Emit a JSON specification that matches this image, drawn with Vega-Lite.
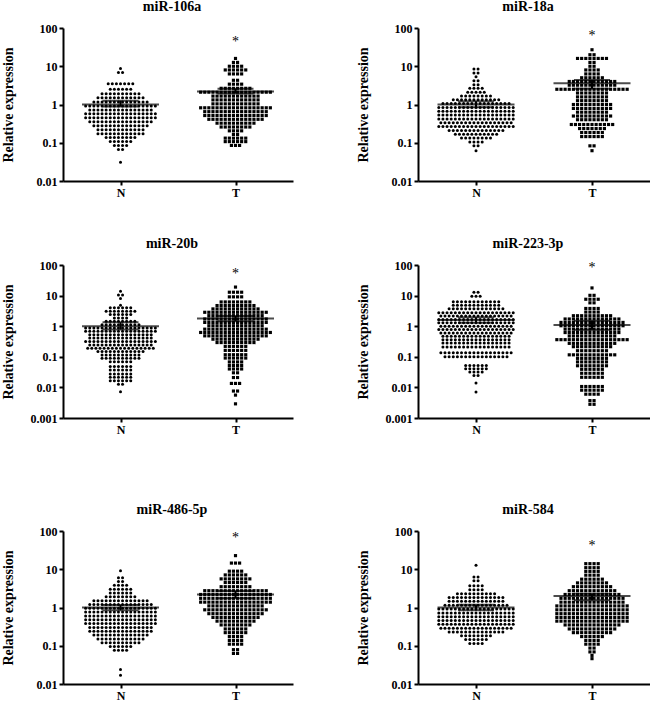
{
"$schema": "https://vega.github.io/schema/vega-lite/v6.json",
"padding": {"left": 1, "top": 0, "right": 0, "bottom": 0},
"datasets": {
"stats": [
{"m":"miR-106a","g":"N","mean":1.0,"lo":0.88,"hi":1.25,"sig":""},
{"m":"miR-106a","g":"T","mean":2.2,"lo":1.95,"hi":2.6,"sig":"*"},
{"m":"miR-18a","g":"N","mean":1.0,"lo":0.85,"hi":1.22,"sig":""},
{"m":"miR-18a","g":"T","mean":3.6,"lo":2.6,"hi":4.4,"sig":"*"},
{"m":"miR-20b","g":"N","mean":1.0,"lo":0.78,"hi":1.35,"sig":""},
{"m":"miR-20b","g":"T","mean":1.78,"lo":1.45,"hi":2.15,"sig":"*"},
{"m":"miR-223-3p","g":"N","mean":1.6,"lo":1.3,"hi":1.95,"sig":""},
{"m":"miR-223-3p","g":"T","mean":1.1,"lo":0.76,"hi":1.5,"sig":"*"},
{"m":"miR-486-5p","g":"N","mean":1.0,"lo":0.85,"hi":1.17,"sig":""},
{"m":"miR-486-5p","g":"T","mean":2.18,"lo":1.75,"hi":2.7,"sig":"*"},
{"m":"miR-584","g":"N","mean":1.0,"lo":0.85,"hi":1.18,"sig":""},
{"m":"miR-584","g":"T","mean":2.0,"lo":1.55,"hi":2.3,"sig":"*"}
],
"n1": [8.7,6.9,6.9,3.5,3.5,3.5,3.5,3.5,3.5,3.5,2.5,2.5,2.5,2.5,2.5,2.5,1.9,1.9,1.9,1.9,1.9,1.9,1.9,1.9,1.9,1.9,1.5,1.5,1.5,1.5,1.5,1.5,1.5,1.5,1.5,1.5,1.5,1.5,1.17,1.17,1.17,1.17,1.17,1.17,1.17,1.17,1.17,1.17,1.17,1.17,1.17,1.17,0.91,0.91,0.91,0.91,0.91,0.91,0.91,0.91,0.91,0.91,0.91,0.91,0.91,0.91,0.91,0.91,0.91,0.91,0.72,0.72,0.72,0.72,0.72,0.72,0.72,0.72,0.72,0.72,0.72,0.72,0.72,0.72,0.72,0.72,0.57,0.57,0.57,0.57,0.57,0.57,0.57,0.57,0.57,0.57,0.57,0.57,0.57,0.57,0.57,0.57,0.57,0.57,0.45,0.45,0.45,0.45,0.45,0.45,0.45,0.45,0.45,0.45,0.45,0.45,0.45,0.45,0.45,0.45,0.45,0.45,0.355,0.355,0.355,0.355,0.355,0.355,0.355,0.355,0.355,0.355,0.355,0.355,0.355,0.355,0.355,0.355,0.28,0.28,0.28,0.28,0.28,0.28,0.28,0.28,0.28,0.28,0.28,0.28,0.28,0.28,0.22,0.22,0.22,0.22,0.22,0.22,0.22,0.22,0.22,0.22,0.22,0.22,0.173,0.173,0.173,0.173,0.173,0.173,0.173,0.173,0.173,0.173,0.173,0.173,0.137,0.137,0.137,0.137,0.137,0.137,0.137,0.137,0.108,0.108,0.108,0.108,0.108,0.108,0.085,0.085,0.085,0.085,0.067,0.067,0.031],
"t1": [16,12.6,12.6,10,10,10,10,8,8,8,8,8,8,6.3,6.3,6.3,6.3,4.3,4.3,3.4,3.4,3.4,3.4,2.65,2.65,2.65,2.65,2.65,2.65,2.65,2.65,2.1,2.1,2.1,2.1,2.1,2.1,2.1,2.1,2.1,2.1,2.1,2.1,2.1,2.1,2.1,2.1,2.1,2.1,1.66,1.66,1.66,1.66,1.66,1.66,1.66,1.66,1.66,1.66,1.66,1.66,1.32,1.32,1.32,1.32,1.32,1.32,1.32,1.32,1.32,1.32,1.32,1.32,1.04,1.04,1.04,1.04,1.04,1.04,1.04,1.04,1.04,1.04,1.04,1.04,0.82,0.82,0.82,0.82,0.82,0.82,0.82,0.82,0.82,0.82,0.82,0.82,0.82,0.82,0.82,0.82,0.82,0.82,0.65,0.65,0.65,0.65,0.65,0.65,0.65,0.65,0.65,0.65,0.65,0.65,0.65,0.65,0.65,0.65,0.515,0.515,0.515,0.515,0.515,0.515,0.515,0.515,0.515,0.515,0.515,0.515,0.515,0.515,0.515,0.515,0.41,0.41,0.41,0.41,0.41,0.41,0.41,0.41,0.41,0.41,0.41,0.41,0.41,0.41,0.325,0.325,0.325,0.325,0.325,0.325,0.325,0.325,0.325,0.325,0.258,0.258,0.258,0.258,0.258,0.258,0.258,0.258,0.205,0.205,0.205,0.205,0.165,0.165,0.132,0.132,0.132,0.132,0.132,0.132,0.107,0.107,0.107,0.107,0.107,0.107,0.085,0.085,0.085],
"n2": [8.5,8.5,6.7,6.7,5.3,4.2,4.2,3.3,3.3,2.65,2.65,2.65,2.65,2.1,2.1,2.1,2.1,2.1,1.68,1.68,1.68,1.68,1.68,1.68,1.68,1.68,1.33,1.33,1.33,1.33,1.33,1.33,1.33,1.33,1.33,1.33,1.33,1.33,1.06,1.06,1.06,1.06,1.06,1.06,1.06,1.06,1.06,1.06,1.06,1.06,1.06,1.06,1.06,1.06,1.06,0.84,0.84,0.84,0.84,0.84,0.84,0.84,0.84,0.84,0.84,0.84,0.84,0.84,0.84,0.84,0.84,0.84,0.84,0.84,0.67,0.67,0.67,0.67,0.67,0.67,0.67,0.67,0.67,0.67,0.67,0.67,0.67,0.67,0.67,0.67,0.67,0.67,0.67,0.53,0.53,0.53,0.53,0.53,0.53,0.53,0.53,0.53,0.53,0.53,0.53,0.53,0.53,0.53,0.53,0.53,0.53,0.53,0.42,0.42,0.42,0.42,0.42,0.42,0.42,0.42,0.42,0.42,0.42,0.42,0.42,0.42,0.42,0.42,0.42,0.42,0.42,0.335,0.335,0.335,0.335,0.335,0.335,0.335,0.335,0.335,0.335,0.335,0.335,0.335,0.335,0.335,0.335,0.335,0.335,0.265,0.265,0.265,0.265,0.265,0.265,0.265,0.265,0.265,0.265,0.265,0.265,0.265,0.265,0.265,0.265,0.265,0.265,0.265,0.21,0.21,0.21,0.21,0.21,0.21,0.21,0.21,0.21,0.21,0.21,0.21,0.21,0.21,0.167,0.167,0.167,0.167,0.167,0.167,0.167,0.167,0.167,0.167,0.167,0.133,0.133,0.133,0.133,0.133,0.133,0.133,0.133,0.105,0.105,0.105,0.105,0.084,0.084,0.062],
"t2": [27,20,20,16,16,16,16,16,16,16,16,12.6,12.6,10,10,8,8,8,8,6.3,6.3,6.3,6.3,5,5,5,5,5,5,4,4,4,4,4,4,4,4,4,4,4,4,3.2,3.2,3.2,3.2,3.2,3.2,3.2,3.2,3.2,3.2,3.2,3.2,2.5,2.5,2.5,2.5,2.5,2.5,2.5,2.5,2.5,2.5,2.5,2.5,2.5,2.5,2.5,2.5,2.5,2.5,2,2,2,2,2,2,2,2,1.58,1.58,1.58,1.58,1.58,1.58,1.58,1.58,1.26,1.26,1.26,1.26,1.26,1.26,1.26,1.26,1,1,1,1,1,1,1,1,1,1,0.79,0.79,0.79,0.79,0.79,0.79,0.79,0.79,0.79,0.79,0.63,0.63,0.63,0.63,0.63,0.63,0.63,0.63,0.5,0.5,0.5,0.5,0.5,0.5,0.5,0.5,0.5,0.5,0.4,0.4,0.4,0.4,0.4,0.4,0.4,0.4,0.3,0.3,0.3,0.3,0.3,0.3,0.3,0.3,0.3,0.3,0.3,0.235,0.235,0.235,0.235,0.235,0.235,0.235,0.185,0.185,0.185,0.185,0.185,0.185,0.145,0.145,0.145,0.145,0.145,0.145,0.083,0.083,0.062],
"n3": [13.8,10.5,10.5,8,4.8,4,4,4,4,4,4,3.1,3.1,3.1,3.1,3.1,3.1,3.1,3.1,2.4,2.4,2.4,2.4,2.4,2.4,1.86,1.86,1.86,1.86,1.45,1.45,1.45,1.45,1.45,1.45,1.45,1.45,1.12,1.12,1.12,1.12,1.12,1.12,1.12,1.12,1.12,1.12,0.87,0.87,0.87,0.87,0.87,0.87,0.87,0.87,0.87,0.87,0.87,0.87,0.87,0.87,0.87,0.87,0.87,0.87,0.68,0.68,0.68,0.68,0.68,0.68,0.68,0.68,0.68,0.68,0.68,0.68,0.68,0.68,0.68,0.68,0.68,0.68,0.525,0.525,0.525,0.525,0.525,0.525,0.525,0.525,0.525,0.525,0.525,0.525,0.525,0.525,0.525,0.525,0.41,0.41,0.41,0.41,0.41,0.41,0.41,0.41,0.41,0.41,0.41,0.41,0.41,0.41,0.41,0.41,0.316,0.316,0.316,0.316,0.316,0.316,0.316,0.316,0.316,0.316,0.316,0.316,0.316,0.316,0.316,0.316,0.316,0.316,0.245,0.245,0.245,0.245,0.245,0.245,0.245,0.245,0.245,0.245,0.245,0.245,0.245,0.245,0.245,0.245,0.19,0.19,0.19,0.19,0.19,0.19,0.19,0.19,0.19,0.19,0.19,0.19,0.19,0.19,0.19,0.19,0.19,0.148,0.148,0.148,0.148,0.148,0.148,0.148,0.148,0.148,0.148,0.148,0.148,0.115,0.115,0.115,0.115,0.115,0.115,0.115,0.115,0.115,0.115,0.089,0.089,0.089,0.089,0.089,0.089,0.089,0.089,0.089,0.089,0.069,0.069,0.069,0.069,0.069,0.069,0.048,0.048,0.048,0.048,0.048,0.048,0.037,0.037,0.037,0.037,0.037,0.037,0.0275,0.0275,0.0275,0.0275,0.0275,0.0275,0.0214,0.0214,0.0214,0.0214,0.0214,0.0214,0.0166,0.0166,0.0166,0.0166,0.0166,0.0166,0.0126,0.0126,0.0072],
"t3": [19,12.9,12.9,12.9,12.9,9.1,9.1,9.1,9.1,6.2,6.2,6.2,6.2,6.2,6.2,6.2,6.2,4.73,4.73,4.73,4.73,4.73,4.73,4.73,4.73,4.73,4.73,3.67,3.67,3.67,3.67,3.67,3.67,3.67,3.67,3.67,3.67,3.67,3.67,2.85,2.85,2.85,2.85,2.85,2.85,2.85,2.85,2.85,2.85,2.85,2.85,2.85,2.85,2.85,2.85,2.21,2.21,2.21,2.21,2.21,2.21,2.21,2.21,2.21,2.21,2.21,2.21,2.21,2.21,1.72,1.72,1.72,1.72,1.72,1.72,1.72,1.72,1.72,1.72,1.72,1.72,1.72,1.72,1.72,1.72,1.33,1.33,1.33,1.33,1.33,1.33,1.33,1.33,1.33,1.33,1.33,1.33,1.33,1.33,1.33,1.33,1.035,1.035,1.035,1.035,1.035,1.035,1.035,1.035,1.035,1.035,1.035,1.035,1.035,1.035,0.8,0.8,0.8,0.8,0.8,0.8,0.8,0.8,0.8,0.8,0.8,0.8,0.8,0.8,0.8,0.8,0.624,0.624,0.624,0.624,0.624,0.624,0.624,0.624,0.624,0.624,0.624,0.624,0.624,0.624,0.624,0.624,0.624,0.624,0.484,0.484,0.484,0.484,0.484,0.484,0.484,0.484,0.484,0.484,0.484,0.484,0.484,0.484,0.484,0.484,0.376,0.376,0.376,0.376,0.376,0.376,0.376,0.376,0.376,0.376,0.376,0.376,0.292,0.292,0.292,0.292,0.292,0.292,0.292,0.292,0.292,0.292,0.219,0.219,0.219,0.219,0.219,0.219,0.162,0.162,0.162,0.162,0.162,0.162,0.117,0.117,0.117,0.117,0.117,0.117,0.091,0.091,0.091,0.091,0.091,0.091,0.068,0.068,0.068,0.068,0.052,0.052,0.052,0.052,0.04,0.04,0.04,0.04,0.03,0.03,0.021,0.021,0.0135,0.0135,0.0135,0.0076,0.0076,0.0056,0.0029],
"n4": [12.8,12.8,9.5,9.5,9.5,6.3,6.3,6.3,6.3,6.3,6.3,6.3,6.3,6.3,6.3,6.3,6.3,4.8,4.8,4.8,4.8,4.8,4.8,4.8,4.8,4.8,4.8,4.8,4.8,3.7,3.7,3.7,3.7,3.7,3.7,3.7,3.7,3.7,3.7,3.7,3.7,3.7,3.7,2.75,2.75,2.75,2.75,2.75,2.75,2.75,2.75,2.75,2.75,2.75,2.75,2.75,2.75,2.75,2.75,2.75,2.75,2.75,2.14,2.14,2.14,2.14,2.14,2.14,2.14,2.14,2.14,2.14,2.14,2.14,2.14,2.14,2.14,2.14,2.14,2.14,1.66,1.66,1.66,1.66,1.66,1.66,1.66,1.66,1.66,1.66,1.66,1.66,1.66,1.66,1.66,1.66,1.66,1.66,1.66,1.29,1.29,1.29,1.29,1.29,1.29,1.29,1.29,1.29,1.29,1.29,1.29,1.29,1.29,1.29,1.29,1.29,1.29,1.29,1,1,1,1,1,1,1,1,1,1,1,1,1,1,1,1,1,1,0.776,0.776,0.776,0.776,0.776,0.776,0.776,0.776,0.776,0.776,0.776,0.776,0.776,0.776,0.776,0.776,0.776,0.776,0.776,0.603,0.603,0.603,0.603,0.603,0.603,0.603,0.603,0.603,0.603,0.603,0.603,0.603,0.603,0.603,0.603,0.603,0.603,0.468,0.468,0.468,0.468,0.468,0.468,0.468,0.468,0.468,0.468,0.468,0.468,0.468,0.468,0.468,0.468,0.468,0.363,0.363,0.363,0.363,0.363,0.363,0.363,0.363,0.363,0.363,0.363,0.363,0.363,0.363,0.363,0.363,0.363,0.282,0.282,0.282,0.282,0.282,0.282,0.282,0.282,0.282,0.282,0.282,0.282,0.282,0.282,0.282,0.282,0.282,0.209,0.209,0.209,0.209,0.209,0.209,0.209,0.209,0.209,0.209,0.209,0.209,0.209,0.209,0.209,0.209,0.209,0.135,0.135,0.135,0.135,0.135,0.135,0.135,0.135,0.135,0.135,0.135,0.135,0.135,0.135,0.135,0.135,0.135,0.135,0.1,0.1,0.1,0.1,0.1,0.1,0.1,0.1,0.1,0.1,0.1,0.1,0.1,0.1,0.1,0.1,0.052,0.052,0.052,0.052,0.052,0.052,0.041,0.041,0.041,0.041,0.041,0.041,0.032,0.032,0.032,0.032,0.0245,0.0245,0.014,0.0071],
"t4": [17.8,10.2,10.2,7.6,7.6,7.6,7.6,5.8,5.8,3.8,3.8,3.8,3.8,2.9,2.9,2.9,2.9,2.2,2.2,2.2,2.2,2.2,2.2,2.2,2.2,2.2,2.2,1.72,1.72,1.72,1.72,1.72,1.72,1.72,1.72,1.72,1.72,1.72,1.72,1.72,1.72,1.33,1.33,1.33,1.33,1.33,1.33,1.33,1.33,1.33,1.33,1.33,1.33,1.33,1.33,1.33,1.33,1.035,1.035,1.035,1.035,1.035,1.035,1.035,1.035,1.035,1.035,1.035,1.035,1.035,1.035,1.035,1.035,0.8,0.8,0.8,0.8,0.8,0.8,0.8,0.8,0.8,0.8,0.8,0.8,0.8,0.8,0.62,0.62,0.62,0.62,0.62,0.62,0.62,0.62,0.62,0.62,0.62,0.62,0.62,0.62,0.48,0.48,0.48,0.48,0.48,0.48,0.48,0.48,0.48,0.48,0.48,0.48,0.363,0.363,0.363,0.363,0.363,0.363,0.363,0.363,0.363,0.363,0.363,0.363,0.363,0.363,0.363,0.363,0.363,0.363,0.275,0.275,0.275,0.275,0.275,0.275,0.275,0.275,0.275,0.275,0.275,0.275,0.214,0.214,0.214,0.214,0.214,0.214,0.214,0.214,0.214,0.214,0.158,0.158,0.158,0.158,0.158,0.158,0.158,0.158,0.116,0.116,0.116,0.116,0.116,0.116,0.116,0.116,0.116,0.116,0.116,0.116,0.089,0.089,0.089,0.089,0.089,0.089,0.089,0.089,0.068,0.068,0.068,0.068,0.068,0.068,0.068,0.068,0.051,0.051,0.051,0.051,0.051,0.051,0.051,0.051,0.039,0.039,0.039,0.039,0.039,0.039,0.029,0.029,0.029,0.029,0.029,0.029,0.0214,0.0214,0.0214,0.0214,0.0214,0.0214,0.0107,0.0107,0.0107,0.0107,0.0107,0.0107,0.0081,0.0081,0.0081,0.0081,0.0081,0.0081,0.006,0.006,0.006,0.006,0.0037,0.0037,0.0028,0.0028],
"n5": [9.2,6,6,4.8,4.8,3.8,3.8,3.8,3.8,3,3,3,3,3,3,2.4,2.4,2.4,2.4,2.4,2.4,1.9,1.9,1.9,1.9,1.9,1.9,1.9,1.9,1.51,1.51,1.51,1.51,1.51,1.51,1.51,1.51,1.51,1.51,1.51,1.51,1.51,1.51,1.2,1.2,1.2,1.2,1.2,1.2,1.2,1.2,1.2,1.2,1.2,1.2,1.2,1.2,1.2,1.2,0.955,0.955,0.955,0.955,0.955,0.955,0.955,0.955,0.955,0.955,0.955,0.955,0.955,0.955,0.955,0.955,0.955,0.955,0.76,0.76,0.76,0.76,0.76,0.76,0.76,0.76,0.76,0.76,0.76,0.76,0.76,0.76,0.76,0.76,0.76,0.76,0.6,0.6,0.6,0.6,0.6,0.6,0.6,0.6,0.6,0.6,0.6,0.6,0.6,0.6,0.6,0.6,0.6,0.6,0.48,0.48,0.48,0.48,0.48,0.48,0.48,0.48,0.48,0.48,0.48,0.48,0.48,0.48,0.48,0.48,0.48,0.48,0.38,0.38,0.38,0.38,0.38,0.38,0.38,0.38,0.38,0.38,0.38,0.38,0.38,0.38,0.38,0.38,0.38,0.38,0.3,0.3,0.3,0.3,0.3,0.3,0.3,0.3,0.3,0.3,0.3,0.3,0.3,0.3,0.3,0.3,0.24,0.24,0.24,0.24,0.24,0.24,0.24,0.24,0.24,0.24,0.24,0.24,0.24,0.24,0.24,0.24,0.19,0.19,0.19,0.19,0.19,0.19,0.19,0.19,0.19,0.19,0.19,0.19,0.19,0.19,0.151,0.151,0.151,0.151,0.151,0.151,0.151,0.151,0.151,0.151,0.151,0.151,0.12,0.12,0.12,0.12,0.12,0.12,0.12,0.12,0.12,0.12,0.095,0.095,0.095,0.095,0.095,0.095,0.076,0.076,0.076,0.076,0.024,0.017],
"t5": [22.7,14.5,14.5,14.5,8.9,8.9,8.9,8.9,7.1,7.1,7.1,7.1,7.1,7.1,5.6,5.6,5.6,5.6,5.6,5.6,5.6,5.6,4.5,4.5,4.5,4.5,4.5,4.5,3.5,3.5,3.5,3.5,3.5,3.5,3.5,3.5,2.75,2.75,2.75,2.75,2.75,2.75,2.75,2.75,2.75,2.75,2.75,2.75,2.75,2.75,2.75,2.75,2.19,2.19,2.19,2.19,2.19,2.19,2.19,2.19,2.19,2.19,2.19,2.19,2.19,2.19,2.19,2.19,2.19,2.19,1.74,1.74,1.74,1.74,1.74,1.74,1.74,1.74,1.74,1.74,1.74,1.74,1.74,1.74,1.74,1.74,1.74,1.74,1.38,1.38,1.38,1.38,1.38,1.38,1.38,1.38,1.38,1.38,1.38,1.38,1.38,1.38,1.38,1.38,1.38,1.38,1.1,1.1,1.1,1.1,1.1,1.1,1.1,1.1,1.1,1.1,1.1,1.1,1.1,1.1,0.87,0.87,0.87,0.87,0.87,0.87,0.87,0.87,0.87,0.87,0.87,0.87,0.87,0.87,0.87,0.87,0.69,0.69,0.69,0.69,0.69,0.69,0.69,0.69,0.69,0.69,0.69,0.69,0.69,0.69,0.55,0.55,0.55,0.55,0.55,0.55,0.55,0.55,0.55,0.55,0.55,0.55,0.44,0.44,0.44,0.44,0.44,0.44,0.44,0.44,0.44,0.44,0.35,0.35,0.35,0.35,0.35,0.35,0.35,0.35,0.275,0.275,0.275,0.275,0.275,0.275,0.22,0.22,0.22,0.22,0.22,0.22,0.174,0.174,0.174,0.174,0.138,0.138,0.138,0.138,0.11,0.11,0.11,0.11,0.079,0.079,0.063,0.063],
"n6": [12.7,6.3,6.3,5,5,3.7,3.7,3.7,3.7,2.9,2.9,2.9,2.9,2.3,2.3,2.3,2.3,2.3,2.3,2.3,2.3,2.3,2.3,1.82,1.82,1.82,1.82,1.82,1.82,1.82,1.82,1.82,1.82,1.82,1.82,1.82,1.82,1.45,1.45,1.45,1.45,1.45,1.45,1.45,1.45,1.45,1.45,1.45,1.45,1.45,1.45,1.15,1.15,1.15,1.15,1.15,1.15,1.15,1.15,1.15,1.15,1.15,1.15,1.15,1.15,1.15,1.15,0.91,0.91,0.91,0.91,0.91,0.91,0.91,0.91,0.91,0.91,0.91,0.91,0.91,0.91,0.91,0.91,0.91,0.91,0.91,0.72,0.72,0.72,0.72,0.72,0.72,0.72,0.72,0.72,0.72,0.72,0.72,0.72,0.72,0.72,0.72,0.72,0.72,0.72,0.575,0.575,0.575,0.575,0.575,0.575,0.575,0.575,0.575,0.575,0.575,0.575,0.575,0.575,0.575,0.575,0.575,0.575,0.575,0.457,0.457,0.457,0.457,0.457,0.457,0.457,0.457,0.457,0.457,0.457,0.457,0.457,0.457,0.457,0.457,0.457,0.457,0.457,0.363,0.363,0.363,0.363,0.363,0.363,0.363,0.363,0.363,0.363,0.363,0.363,0.363,0.363,0.363,0.363,0.363,0.363,0.363,0.288,0.288,0.288,0.288,0.288,0.288,0.288,0.288,0.288,0.288,0.288,0.288,0.288,0.288,0.288,0.288,0.288,0.288,0.229,0.229,0.229,0.229,0.229,0.229,0.229,0.229,0.229,0.229,0.229,0.229,0.229,0.229,0.182,0.182,0.182,0.182,0.182,0.182,0.182,0.182,0.145,0.145,0.145,0.145,0.145,0.145,0.115,0.115,0.115,0.115],
"t6": [14,14,14,14,11,11,11,11,8.8,8.8,8.8,8.8,7,7,7,7,5.5,5.5,5.5,5.5,5.5,5.5,4.4,4.4,4.4,4.4,4.4,4.4,4.4,4.4,3.5,3.5,3.5,3.5,3.5,3.5,3.5,3.5,3.5,3.5,2.75,2.75,2.75,2.75,2.75,2.75,2.75,2.75,2.75,2.75,2.75,2.75,2.19,2.19,2.19,2.19,2.19,2.19,2.19,2.19,2.19,2.19,2.19,2.19,2.19,2.19,1.74,1.74,1.74,1.74,1.74,1.74,1.74,1.74,1.74,1.74,1.74,1.74,1.74,1.74,1.74,1.74,1.38,1.38,1.38,1.38,1.38,1.38,1.38,1.38,1.38,1.38,1.38,1.38,1.38,1.38,1.38,1.38,1.1,1.1,1.1,1.1,1.1,1.1,1.1,1.1,1.1,1.1,1.1,1.1,1.1,1.1,1.1,1.1,1.1,1.1,0.87,0.87,0.87,0.87,0.87,0.87,0.87,0.87,0.87,0.87,0.87,0.87,0.87,0.87,0.87,0.87,0.87,0.87,0.69,0.69,0.69,0.69,0.69,0.69,0.69,0.69,0.69,0.69,0.69,0.69,0.69,0.69,0.69,0.69,0.69,0.69,0.55,0.55,0.55,0.55,0.55,0.55,0.55,0.55,0.55,0.55,0.55,0.55,0.55,0.55,0.55,0.55,0.55,0.55,0.44,0.44,0.44,0.44,0.44,0.44,0.44,0.44,0.44,0.44,0.44,0.44,0.44,0.44,0.44,0.44,0.44,0.44,0.35,0.35,0.35,0.35,0.35,0.35,0.35,0.35,0.35,0.35,0.35,0.35,0.35,0.35,0.275,0.275,0.275,0.275,0.275,0.275,0.275,0.275,0.275,0.275,0.275,0.275,0.22,0.22,0.22,0.22,0.22,0.22,0.22,0.22,0.22,0.22,0.174,0.174,0.174,0.174,0.174,0.174,0.138,0.138,0.138,0.138,0.11,0.11,0.11,0.11,0.087,0.087,0.069,0.069,0.056,0.046]
},
"config": {
"view": {"stroke": null},
"font": "Liberation Serif",
"axis": {"domainColor": "black", "domainWidth": 2, "tickColor": "black", "tickWidth": 2, "tickSize": 4, "labelFont": "Liberation Serif", "labelFontWeight": "bold", "labelFontSize": 12, "labelColor": "black", "labelPadding": 2, "titleFont": "Liberation Serif", "titleFontWeight": "bold", "titleFontSize": 14, "titleColor": "black", "grid": false},
"axisY": {"minExtent": 30, "maxExtent": 30, "titlePadding": 18, "labelFlush": false},
"axisX": {"labelAngle": 0, "labelFlush": false},
"title": {"font": "Liberation Serif", "fontSize": 14, "fontWeight": "bold", "color": "black", "offset": 8, "frame": "group", "dx": -6}
},
"spacing": 68,
"vconcat": [
{"spacing": 39, "vconcat": [
{"spacing": 63, "hconcat": [
{"title": "miR-106a", "width": 230, "height": 153, "layer": [
{"data": {"name": "stats"}, "transform": [{"filter": "datum.m === 'miR-106a'"}, {"calculate": "datum.g === 'N' ? 1 : 3", "as": "c"}], "layer": [
 {"mark": {"type": "tick", "orient": "horizontal", "size": 77, "thickness": 2, "color": "black"}, "encoding": {"x": {"field": "c", "type": "quantitative", "scale": {"domain": [0, 4], "nice": false, "zero": false}, "axis": {"title": null, "values": [1, 3], "labelExpr": "datum.value === 1 ? 'N' : 'T'"}}, "y": {"field": "mean", "type": "quantitative", "scale": {"type": "log", "domain": [0.01, 100], "nice": false}, "axis": {"title": "Relative expression", "values": [0.01, 0.1, 1, 10, 100], "format": "~g"}}}},
 {"mark": {"type": "tick", "orient": "horizontal", "size": 36, "thickness": 2, "color": "black"}, "encoding": {"x": {"field": "c", "type": "quantitative", "scale": {"domain": [0, 4], "nice": false, "zero": false}, "axis": {"title": null}}, "y": {"field": "lo", "type": "quantitative", "scale": {"type": "log", "domain": [0.01, 100], "nice": false}, "axis": {"title": "Relative expression"}}}},
 {"mark": {"type": "tick", "orient": "horizontal", "size": 36, "thickness": 2, "color": "black"}, "encoding": {"x": {"field": "c", "type": "quantitative", "scale": {"domain": [0, 4], "nice": false, "zero": false}, "axis": {"title": null}}, "y": {"field": "hi", "type": "quantitative", "scale": {"type": "log", "domain": [0.01, 100], "nice": false}, "axis": {"title": "Relative expression"}}}},
 {"mark": {"type": "rule", "strokeWidth": 2, "color": "black"}, "encoding": {"x": {"field": "c", "type": "quantitative", "scale": {"domain": [0, 4], "nice": false, "zero": false}, "axis": {"title": null}}, "y": {"field": "lo", "type": "quantitative", "scale": {"type": "log", "domain": [0.01, 100], "nice": false}, "axis": {"title": "Relative expression"}}, "y2": {"field": "hi"}}},
 {"mark": {"type": "text", "fontSize": 14, "baseline": "middle", "font": "Liberation Serif", "color": "black"}, "encoding": {"x": {"field": "c", "type": "quantitative", "scale": {"domain": [0, 4], "nice": false, "zero": false}, "axis": {"title": null}}, "y": {"datum": 42, "type": "quantitative", "scale": {"type": "log", "domain": [0.01, 100], "nice": false}, "axis": {"title": "Relative expression"}}, "text": {"field": "sig"}}}
]},
{"data": {"name": "n1"}, "transform": [{"window": [{"op": "row_number", "as": "i"}, {"op": "count", "as": "n"}], "groupby": ["data"], "frame": [null, null]}, {"calculate": "1 + (datum.i - (datum.n + 1) / 2) * 0.0713", "as": "x"}],
 "mark": {"type": "point", "shape": "circle", "filled": true, "size": 9, "color": "black", "opacity": 1},
 "encoding": {"x": {"field": "x", "type": "quantitative", "scale": {"domain": [0, 4], "nice": false, "zero": false}, "axis": {"title": null}}, "y": {"field": "data", "type": "quantitative", "scale": {"type": "log", "domain": [0.01, 100], "nice": false}, "axis": {"title": "Relative expression"}}}},
{"data": {"name": "t1"}, "transform": [{"window": [{"op": "row_number", "as": "i"}, {"op": "count", "as": "n"}], "groupby": ["data"], "frame": [null, null]}, {"calculate": "3 + (datum.i - (datum.n + 1) / 2) * 0.0713", "as": "x"}],
 "mark": {"type": "point", "shape": "square", "filled": true, "size": 10, "color": "black", "opacity": 1},
 "encoding": {"x": {"field": "x", "type": "quantitative", "scale": {"domain": [0, 4], "nice": false, "zero": false}, "axis": {"title": null}}, "y": {"field": "data", "type": "quantitative", "scale": {"type": "log", "domain": [0.01, 100], "nice": false}, "axis": {"title": "Relative expression"}}}}
]},
{"title": "miR-18a", "width": 232, "height": 153, "layer": [
{"data": {"name": "stats"}, "transform": [{"filter": "datum.m === 'miR-18a'"}, {"calculate": "datum.g === 'N' ? 1 : 3", "as": "c"}], "layer": [
 {"mark": {"type": "tick", "orient": "horizontal", "size": 77, "thickness": 2, "color": "black"}, "encoding": {"x": {"field": "c", "type": "quantitative", "scale": {"domain": [0, 4], "nice": false, "zero": false}, "axis": {"title": null, "values": [1, 3], "labelExpr": "datum.value === 1 ? 'N' : 'T'"}}, "y": {"field": "mean", "type": "quantitative", "scale": {"type": "log", "domain": [0.01, 100], "nice": false}, "axis": {"title": "Relative expression", "values": [0.01, 0.1, 1, 10, 100], "format": "~g"}}}},
 {"mark": {"type": "tick", "orient": "horizontal", "size": 36, "thickness": 2, "color": "black"}, "encoding": {"x": {"field": "c", "type": "quantitative", "scale": {"domain": [0, 4], "nice": false, "zero": false}, "axis": {"title": null}}, "y": {"field": "lo", "type": "quantitative", "scale": {"type": "log", "domain": [0.01, 100], "nice": false}, "axis": {"title": "Relative expression"}}}},
 {"mark": {"type": "tick", "orient": "horizontal", "size": 36, "thickness": 2, "color": "black"}, "encoding": {"x": {"field": "c", "type": "quantitative", "scale": {"domain": [0, 4], "nice": false, "zero": false}, "axis": {"title": null}}, "y": {"field": "hi", "type": "quantitative", "scale": {"type": "log", "domain": [0.01, 100], "nice": false}, "axis": {"title": "Relative expression"}}}},
 {"mark": {"type": "rule", "strokeWidth": 2, "color": "black"}, "encoding": {"x": {"field": "c", "type": "quantitative", "scale": {"domain": [0, 4], "nice": false, "zero": false}, "axis": {"title": null}}, "y": {"field": "lo", "type": "quantitative", "scale": {"type": "log", "domain": [0.01, 100], "nice": false}, "axis": {"title": "Relative expression"}}, "y2": {"field": "hi"}}},
 {"mark": {"type": "text", "fontSize": 14, "baseline": "middle", "font": "Liberation Serif", "color": "black"}, "encoding": {"x": {"field": "c", "type": "quantitative", "scale": {"domain": [0, 4], "nice": false, "zero": false}, "axis": {"title": null}}, "y": {"datum": 63, "type": "quantitative", "scale": {"type": "log", "domain": [0.01, 100], "nice": false}, "axis": {"title": "Relative expression"}}, "text": {"field": "sig"}}}
]},
{"data": {"name": "n2"}, "transform": [{"window": [{"op": "row_number", "as": "i"}, {"op": "count", "as": "n"}], "groupby": ["data"], "frame": [null, null]}, {"calculate": "1 + (datum.i - (datum.n + 1) / 2) * 0.0713", "as": "x"}],
 "mark": {"type": "point", "shape": "circle", "filled": true, "size": 9, "color": "black", "opacity": 1},
 "encoding": {"x": {"field": "x", "type": "quantitative", "scale": {"domain": [0, 4], "nice": false, "zero": false}, "axis": {"title": null}}, "y": {"field": "data", "type": "quantitative", "scale": {"type": "log", "domain": [0.01, 100], "nice": false}, "axis": {"title": "Relative expression"}}}},
{"data": {"name": "t2"}, "transform": [{"window": [{"op": "row_number", "as": "i"}, {"op": "count", "as": "n"}], "groupby": ["data"], "frame": [null, null]}, {"calculate": "3 + (datum.i - (datum.n + 1) / 2) * 0.0713", "as": "x"}],
 "mark": {"type": "point", "shape": "square", "filled": true, "size": 10, "color": "black", "opacity": 1},
 "encoding": {"x": {"field": "x", "type": "quantitative", "scale": {"domain": [0, 4], "nice": false, "zero": false}, "axis": {"title": null}}, "y": {"field": "data", "type": "quantitative", "scale": {"type": "log", "domain": [0.01, 100], "nice": false}, "axis": {"title": "Relative expression"}}}}
]}
]},
{"spacing": 63, "hconcat": [
{"title": "miR-20b", "width": 230, "height": 153, "layer": [
{"data": {"name": "stats"}, "transform": [{"filter": "datum.m === 'miR-20b'"}, {"calculate": "datum.g === 'N' ? 1 : 3", "as": "c"}], "layer": [
 {"mark": {"type": "tick", "orient": "horizontal", "size": 77, "thickness": 2, "color": "black"}, "encoding": {"x": {"field": "c", "type": "quantitative", "scale": {"domain": [0, 4], "nice": false, "zero": false}, "axis": {"title": null, "values": [1, 3], "labelExpr": "datum.value === 1 ? 'N' : 'T'"}}, "y": {"field": "mean", "type": "quantitative", "scale": {"type": "log", "domain": [0.001, 100], "nice": false}, "axis": {"title": "Relative expression", "values": [0.001, 0.01, 0.1, 1, 10, 100], "format": "~g"}}}},
 {"mark": {"type": "tick", "orient": "horizontal", "size": 36, "thickness": 2, "color": "black"}, "encoding": {"x": {"field": "c", "type": "quantitative", "scale": {"domain": [0, 4], "nice": false, "zero": false}, "axis": {"title": null}}, "y": {"field": "lo", "type": "quantitative", "scale": {"type": "log", "domain": [0.001, 100], "nice": false}, "axis": {"title": "Relative expression"}}}},
 {"mark": {"type": "tick", "orient": "horizontal", "size": 36, "thickness": 2, "color": "black"}, "encoding": {"x": {"field": "c", "type": "quantitative", "scale": {"domain": [0, 4], "nice": false, "zero": false}, "axis": {"title": null}}, "y": {"field": "hi", "type": "quantitative", "scale": {"type": "log", "domain": [0.001, 100], "nice": false}, "axis": {"title": "Relative expression"}}}},
 {"mark": {"type": "rule", "strokeWidth": 2, "color": "black"}, "encoding": {"x": {"field": "c", "type": "quantitative", "scale": {"domain": [0, 4], "nice": false, "zero": false}, "axis": {"title": null}}, "y": {"field": "lo", "type": "quantitative", "scale": {"type": "log", "domain": [0.001, 100], "nice": false}, "axis": {"title": "Relative expression"}}, "y2": {"field": "hi"}}},
 {"mark": {"type": "text", "fontSize": 14, "baseline": "middle", "font": "Liberation Serif", "color": "black"}, "encoding": {"x": {"field": "c", "type": "quantitative", "scale": {"domain": [0, 4], "nice": false, "zero": false}, "axis": {"title": null}}, "y": {"datum": 50, "type": "quantitative", "scale": {"type": "log", "domain": [0.001, 100], "nice": false}, "axis": {"title": "Relative expression"}}, "text": {"field": "sig"}}}
]},
{"data": {"name": "n3"}, "transform": [{"window": [{"op": "row_number", "as": "i"}, {"op": "count", "as": "n"}], "groupby": ["data"], "frame": [null, null]}, {"calculate": "1 + (datum.i - (datum.n + 1) / 2) * 0.0713", "as": "x"}],
 "mark": {"type": "point", "shape": "circle", "filled": true, "size": 9, "color": "black", "opacity": 1},
 "encoding": {"x": {"field": "x", "type": "quantitative", "scale": {"domain": [0, 4], "nice": false, "zero": false}, "axis": {"title": null}}, "y": {"field": "data", "type": "quantitative", "scale": {"type": "log", "domain": [0.001, 100], "nice": false}, "axis": {"title": "Relative expression"}}}},
{"data": {"name": "t3"}, "transform": [{"window": [{"op": "row_number", "as": "i"}, {"op": "count", "as": "n"}], "groupby": ["data"], "frame": [null, null]}, {"calculate": "3 + (datum.i - (datum.n + 1) / 2) * 0.0713", "as": "x"}],
 "mark": {"type": "point", "shape": "square", "filled": true, "size": 10, "color": "black", "opacity": 1},
 "encoding": {"x": {"field": "x", "type": "quantitative", "scale": {"domain": [0, 4], "nice": false, "zero": false}, "axis": {"title": null}}, "y": {"field": "data", "type": "quantitative", "scale": {"type": "log", "domain": [0.001, 100], "nice": false}, "axis": {"title": "Relative expression"}}}}
]},
{"title": "miR-223-3p", "width": 232, "height": 153, "layer": [
{"data": {"name": "stats"}, "transform": [{"filter": "datum.m === 'miR-223-3p'"}, {"calculate": "datum.g === 'N' ? 1 : 3", "as": "c"}], "layer": [
 {"mark": {"type": "tick", "orient": "horizontal", "size": 77, "thickness": 2, "color": "black"}, "encoding": {"x": {"field": "c", "type": "quantitative", "scale": {"domain": [0, 4], "nice": false, "zero": false}, "axis": {"title": null, "values": [1, 3], "labelExpr": "datum.value === 1 ? 'N' : 'T'"}}, "y": {"field": "mean", "type": "quantitative", "scale": {"type": "log", "domain": [0.001, 100], "nice": false}, "axis": {"title": "Relative expression", "values": [0.001, 0.01, 0.1, 1, 10, 100], "format": "~g"}}}},
 {"mark": {"type": "tick", "orient": "horizontal", "size": 36, "thickness": 2, "color": "black"}, "encoding": {"x": {"field": "c", "type": "quantitative", "scale": {"domain": [0, 4], "nice": false, "zero": false}, "axis": {"title": null}}, "y": {"field": "lo", "type": "quantitative", "scale": {"type": "log", "domain": [0.001, 100], "nice": false}, "axis": {"title": "Relative expression"}}}},
 {"mark": {"type": "tick", "orient": "horizontal", "size": 36, "thickness": 2, "color": "black"}, "encoding": {"x": {"field": "c", "type": "quantitative", "scale": {"domain": [0, 4], "nice": false, "zero": false}, "axis": {"title": null}}, "y": {"field": "hi", "type": "quantitative", "scale": {"type": "log", "domain": [0.001, 100], "nice": false}, "axis": {"title": "Relative expression"}}}},
 {"mark": {"type": "rule", "strokeWidth": 2, "color": "black"}, "encoding": {"x": {"field": "c", "type": "quantitative", "scale": {"domain": [0, 4], "nice": false, "zero": false}, "axis": {"title": null}}, "y": {"field": "lo", "type": "quantitative", "scale": {"type": "log", "domain": [0.001, 100], "nice": false}, "axis": {"title": "Relative expression"}}, "y2": {"field": "hi"}}},
 {"mark": {"type": "text", "fontSize": 14, "baseline": "middle", "font": "Liberation Serif", "color": "black"}, "encoding": {"x": {"field": "c", "type": "quantitative", "scale": {"domain": [0, 4], "nice": false, "zero": false}, "axis": {"title": null}}, "y": {"datum": 82, "type": "quantitative", "scale": {"type": "log", "domain": [0.001, 100], "nice": false}, "axis": {"title": "Relative expression"}}, "text": {"field": "sig"}}}
]},
{"data": {"name": "n4"}, "transform": [{"window": [{"op": "row_number", "as": "i"}, {"op": "count", "as": "n"}], "groupby": ["data"], "frame": [null, null]}, {"calculate": "1 + (datum.i - (datum.n + 1) / 2) * 0.0713", "as": "x"}],
 "mark": {"type": "point", "shape": "circle", "filled": true, "size": 9, "color": "black", "opacity": 1},
 "encoding": {"x": {"field": "x", "type": "quantitative", "scale": {"domain": [0, 4], "nice": false, "zero": false}, "axis": {"title": null}}, "y": {"field": "data", "type": "quantitative", "scale": {"type": "log", "domain": [0.001, 100], "nice": false}, "axis": {"title": "Relative expression"}}}},
{"data": {"name": "t4"}, "transform": [{"window": [{"op": "row_number", "as": "i"}, {"op": "count", "as": "n"}], "groupby": ["data"], "frame": [null, null]}, {"calculate": "3 + (datum.i - (datum.n + 1) / 2) * 0.0713", "as": "x"}],
 "mark": {"type": "point", "shape": "square", "filled": true, "size": 10, "color": "black", "opacity": 1},
 "encoding": {"x": {"field": "x", "type": "quantitative", "scale": {"domain": [0, 4], "nice": false, "zero": false}, "axis": {"title": null}}, "y": {"field": "data", "type": "quantitative", "scale": {"type": "log", "domain": [0.001, 100], "nice": false}, "axis": {"title": "Relative expression"}}}}
]}
]}
]},
{"spacing": 63, "hconcat": [
{"title": "miR-486-5p", "width": 230, "height": 153, "layer": [
{"data": {"name": "stats"}, "transform": [{"filter": "datum.m === 'miR-486-5p'"}, {"calculate": "datum.g === 'N' ? 1 : 3", "as": "c"}], "layer": [
 {"mark": {"type": "tick", "orient": "horizontal", "size": 77, "thickness": 2, "color": "black"}, "encoding": {"x": {"field": "c", "type": "quantitative", "scale": {"domain": [0, 4], "nice": false, "zero": false}, "axis": {"title": null, "values": [1, 3], "labelExpr": "datum.value === 1 ? 'N' : 'T'"}}, "y": {"field": "mean", "type": "quantitative", "scale": {"type": "log", "domain": [0.01, 100], "nice": false}, "axis": {"title": "Relative expression", "values": [0.01, 0.1, 1, 10, 100], "format": "~g"}}}},
 {"mark": {"type": "tick", "orient": "horizontal", "size": 36, "thickness": 2, "color": "black"}, "encoding": {"x": {"field": "c", "type": "quantitative", "scale": {"domain": [0, 4], "nice": false, "zero": false}, "axis": {"title": null}}, "y": {"field": "lo", "type": "quantitative", "scale": {"type": "log", "domain": [0.01, 100], "nice": false}, "axis": {"title": "Relative expression"}}}},
 {"mark": {"type": "tick", "orient": "horizontal", "size": 36, "thickness": 2, "color": "black"}, "encoding": {"x": {"field": "c", "type": "quantitative", "scale": {"domain": [0, 4], "nice": false, "zero": false}, "axis": {"title": null}}, "y": {"field": "hi", "type": "quantitative", "scale": {"type": "log", "domain": [0.01, 100], "nice": false}, "axis": {"title": "Relative expression"}}}},
 {"mark": {"type": "rule", "strokeWidth": 2, "color": "black"}, "encoding": {"x": {"field": "c", "type": "quantitative", "scale": {"domain": [0, 4], "nice": false, "zero": false}, "axis": {"title": null}}, "y": {"field": "lo", "type": "quantitative", "scale": {"type": "log", "domain": [0.01, 100], "nice": false}, "axis": {"title": "Relative expression"}}, "y2": {"field": "hi"}}},
 {"mark": {"type": "text", "fontSize": 14, "baseline": "middle", "font": "Liberation Serif", "color": "black"}, "encoding": {"x": {"field": "c", "type": "quantitative", "scale": {"domain": [0, 4], "nice": false, "zero": false}, "axis": {"title": null}}, "y": {"datum": 67, "type": "quantitative", "scale": {"type": "log", "domain": [0.01, 100], "nice": false}, "axis": {"title": "Relative expression"}}, "text": {"field": "sig"}}}
]},
{"data": {"name": "n5"}, "transform": [{"window": [{"op": "row_number", "as": "i"}, {"op": "count", "as": "n"}], "groupby": ["data"], "frame": [null, null]}, {"calculate": "1 + (datum.i - (datum.n + 1) / 2) * 0.0713", "as": "x"}],
 "mark": {"type": "point", "shape": "circle", "filled": true, "size": 9, "color": "black", "opacity": 1},
 "encoding": {"x": {"field": "x", "type": "quantitative", "scale": {"domain": [0, 4], "nice": false, "zero": false}, "axis": {"title": null}}, "y": {"field": "data", "type": "quantitative", "scale": {"type": "log", "domain": [0.01, 100], "nice": false}, "axis": {"title": "Relative expression"}}}},
{"data": {"name": "t5"}, "transform": [{"window": [{"op": "row_number", "as": "i"}, {"op": "count", "as": "n"}], "groupby": ["data"], "frame": [null, null]}, {"calculate": "3 + (datum.i - (datum.n + 1) / 2) * 0.0713", "as": "x"}],
 "mark": {"type": "point", "shape": "square", "filled": true, "size": 10, "color": "black", "opacity": 1},
 "encoding": {"x": {"field": "x", "type": "quantitative", "scale": {"domain": [0, 4], "nice": false, "zero": false}, "axis": {"title": null}}, "y": {"field": "data", "type": "quantitative", "scale": {"type": "log", "domain": [0.01, 100], "nice": false}, "axis": {"title": "Relative expression"}}}}
]},
{"title": "miR-584", "width": 232, "height": 153, "layer": [
{"data": {"name": "stats"}, "transform": [{"filter": "datum.m === 'miR-584'"}, {"calculate": "datum.g === 'N' ? 1 : 3", "as": "c"}], "layer": [
 {"mark": {"type": "tick", "orient": "horizontal", "size": 77, "thickness": 2, "color": "black"}, "encoding": {"x": {"field": "c", "type": "quantitative", "scale": {"domain": [0, 4], "nice": false, "zero": false}, "axis": {"title": null, "values": [1, 3], "labelExpr": "datum.value === 1 ? 'N' : 'T'"}}, "y": {"field": "mean", "type": "quantitative", "scale": {"type": "log", "domain": [0.01, 100], "nice": false}, "axis": {"title": "Relative expression", "values": [0.01, 0.1, 1, 10, 100], "format": "~g"}}}},
 {"mark": {"type": "tick", "orient": "horizontal", "size": 36, "thickness": 2, "color": "black"}, "encoding": {"x": {"field": "c", "type": "quantitative", "scale": {"domain": [0, 4], "nice": false, "zero": false}, "axis": {"title": null}}, "y": {"field": "lo", "type": "quantitative", "scale": {"type": "log", "domain": [0.01, 100], "nice": false}, "axis": {"title": "Relative expression"}}}},
 {"mark": {"type": "tick", "orient": "horizontal", "size": 36, "thickness": 2, "color": "black"}, "encoding": {"x": {"field": "c", "type": "quantitative", "scale": {"domain": [0, 4], "nice": false, "zero": false}, "axis": {"title": null}}, "y": {"field": "hi", "type": "quantitative", "scale": {"type": "log", "domain": [0.01, 100], "nice": false}, "axis": {"title": "Relative expression"}}}},
 {"mark": {"type": "rule", "strokeWidth": 2, "color": "black"}, "encoding": {"x": {"field": "c", "type": "quantitative", "scale": {"domain": [0, 4], "nice": false, "zero": false}, "axis": {"title": null}}, "y": {"field": "lo", "type": "quantitative", "scale": {"type": "log", "domain": [0.01, 100], "nice": false}, "axis": {"title": "Relative expression"}}, "y2": {"field": "hi"}}},
 {"mark": {"type": "text", "fontSize": 14, "baseline": "middle", "font": "Liberation Serif", "color": "black"}, "encoding": {"x": {"field": "c", "type": "quantitative", "scale": {"domain": [0, 4], "nice": false, "zero": false}, "axis": {"title": null}}, "y": {"datum": 41, "type": "quantitative", "scale": {"type": "log", "domain": [0.01, 100], "nice": false}, "axis": {"title": "Relative expression"}}, "text": {"field": "sig"}}}
]},
{"data": {"name": "n6"}, "transform": [{"window": [{"op": "row_number", "as": "i"}, {"op": "count", "as": "n"}], "groupby": ["data"], "frame": [null, null]}, {"calculate": "1 + (datum.i - (datum.n + 1) / 2) * 0.0713", "as": "x"}],
 "mark": {"type": "point", "shape": "circle", "filled": true, "size": 9, "color": "black", "opacity": 1},
 "encoding": {"x": {"field": "x", "type": "quantitative", "scale": {"domain": [0, 4], "nice": false, "zero": false}, "axis": {"title": null}}, "y": {"field": "data", "type": "quantitative", "scale": {"type": "log", "domain": [0.01, 100], "nice": false}, "axis": {"title": "Relative expression"}}}},
{"data": {"name": "t6"}, "transform": [{"window": [{"op": "row_number", "as": "i"}, {"op": "count", "as": "n"}], "groupby": ["data"], "frame": [null, null]}, {"calculate": "3 + (datum.i - (datum.n + 1) / 2) * 0.0713", "as": "x"}],
 "mark": {"type": "point", "shape": "square", "filled": true, "size": 10, "color": "black", "opacity": 1},
 "encoding": {"x": {"field": "x", "type": "quantitative", "scale": {"domain": [0, 4], "nice": false, "zero": false}, "axis": {"title": null}}, "y": {"field": "data", "type": "quantitative", "scale": {"type": "log", "domain": [0.01, 100], "nice": false}, "axis": {"title": "Relative expression"}}}}
]}
]}
]
}
